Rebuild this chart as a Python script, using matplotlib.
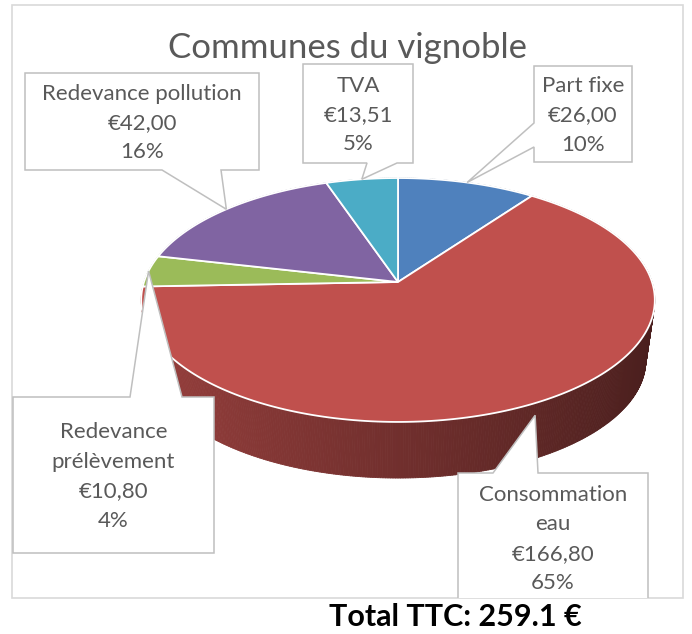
import numpy as np
import matplotlib
matplotlib.use('Agg')
import matplotlib.pyplot as plt
from matplotlib.patches import Polygon, Rectangle
from matplotlib.collections import PolyCollection
from matplotlib.colors import to_rgb

plt.rcParams['font.family'] = ['Lato', 'DejaVu Sans']

titre = 'Communes du vignoble'
categories = ['Part fixe', 'Consommation\neau', 'Redevance\nprélèvement',
              'Redevance pollution', 'TVA']
montants = [26.00, 166.80, 10.80, 42.00, 13.51]
pourcentages = ['10%', '65%', '4%', '16%', '5%']
couleurs = ['#4F81BD', '#C0504D', '#9BBB59', '#8064A2', '#4BACC6']

# camembert 3D en perspective (coordonnees en pixels, y vers le bas)
CX, CY = 398, 282
SX, SY = 254, 119.3
K = 0.1475       # perspective : le bord avant parait plus grand
F_BAS = 0.965    # la face du dessous est un peu plus petite
DV = 61          # epaisseur

GRIS = '#595959'
BORD = '#BFBFBF'

# bulles des etiquettes : boite, cote du pointeur, base du pointeur
bulles = [
    dict(boite=(534, 66, 632, 162), cote='gauche', base=(147, 123), chute=0.0),
    dict(boite=(458, 473, 648, 602), cote='haut', base=(493, 538), chute=0.2),
    dict(boite=(13, 397, 214, 553), cote='haut', base=(130, 182), chute=0.0),
    dict(boite=(25, 73, 259, 170), cote='bas', base=(221, 162), chute=0.0),
    dict(boite=(303, 64, 413, 163), cote='bas', base=(397, 367), chute=0.0),
]


def point(t, bas=False):
    X, Y = np.cos(t), np.sin(t)
    d = 1 + K * Y
    f = F_BAS if bas else 1.0
    dy = DV if bas else 0
    return CX + f * SX * X / d, CY + dy - f * SY * Y / d


def assombrir(couleur, t):
    # degrade horizontal du flanc : clair a gauche, sombre a droite
    fac = 0.80 - 0.42 * (np.cos(t) + 1) / 2
    return tuple(c * fac for c in to_rgb(couleur))


total = sum(montants)
fractions = np.cumsum([0] + montants) / total
angles = np.radians(90 - 360 * fractions)   # sens horaire depuis midi

fig = plt.figure(figsize=(6.92, 6.34), dpi=100)
ax = fig.add_axes([0, 0, 1, 1])
ax.set_xlim(0, 692)
ax.set_ylim(634, 0)
ax.axis('off')

# flanc : petits quadrilateres du fond vers l'avant
n = 720
ts = np.linspace(np.pi / 2, np.pi / 2 - 2 * np.pi, n + 1)
quads, cols, prof = [], [], []
for i in range(n):
    t0, t1 = ts[i], ts[i + 1]
    tm = (t0 + t1) / 2
    idx = np.searchsorted(-angles, -tm) - 1
    idx = min(max(idx, 0), len(montants) - 1)
    quads.append([point(t0), point(t1), point(t1, True), point(t0, True)])
    c = assombrir(couleurs[idx], tm)
    cols.append(c)
    prof.append(np.sin(tm))
ordre = np.argsort(prof)[::-1]
ax.add_collection(PolyCollection([quads[i] for i in ordre],
                                 facecolors=[cols[i] for i in ordre],
                                 edgecolors=[cols[i] for i in ordre],
                                 linewidths=0.6, zorder=1))

# face du dessus
for i in range(len(montants)):
    arc = np.linspace(angles[i], angles[i + 1], 200)
    pts = [(CX, CY)] + [point(t) for t in arc]
    ax.add_patch(Polygon(pts, closed=True, facecolor=couleurs[i],
                         edgecolor='white', linewidth=1.3, zorder=2))

# cadre du graphique
ax.add_patch(Rectangle((12, 5), 671, 593, fill=False, edgecolor='#D9D9D9',
                       linewidth=1.2, zorder=3))

# etiquettes en bulles
for i, b in enumerate(bulles):
    x0, y0, x1, y1 = b['boite']
    tm = (angles[i] + angles[i + 1]) / 2
    px, py = point(tm)
    pointe = (px, py + b['chute'] * DV)
    a, c = b['base']
    if b['cote'] == 'haut':
        pts = [(x0, y0), (a, y0), pointe, (c, y0), (x1, y0), (x1, y1), (x0, y1)]
    elif b['cote'] == 'bas':
        pts = [(x0, y0), (x1, y0), (x1, y1), (a, y1), pointe, (c, y1), (x0, y1)]
    else:
        pts = [(x0, y0), (x1, y0), (x1, y1), (x0, y1), (x0, a), pointe, (x0, c)]
    bulle = Polygon(pts, closed=True, facecolor='white', edgecolor=BORD,
                    linewidth=1.1, zorder=4)
    ax.add_patch(bulle)
    bulle.set_clip_path(Rectangle((12, 5), 671, 593, transform=ax.transData))

    lignes = categories[i].split('\n')
    lignes += ['€' + f'{montants[i]:.2f}'.replace('.', ','), pourcentages[i]]
    yc = (y0 + y1) / 2 + 1.5
    pas = 29.5
    for j, txt in enumerate(lignes):
        y = yc + (j - (len(lignes) - 1) / 2) * pas
        ax.text((x0 + x1) / 2, y, txt, ha='center', va='center',
                fontsize=16, color=GRIS, zorder=5)

ax.text(348, 48, titre, ha='center', va='center', fontsize=25, color=GRIS,
        zorder=5)
ax.text(455, 617, f'Total TTC: {total:.1f} €', ha='center', va='center',
        fontsize=22, fontweight='bold', color='black', zorder=5)

fig.savefig('out.png', dpi=100, facecolor='white')
